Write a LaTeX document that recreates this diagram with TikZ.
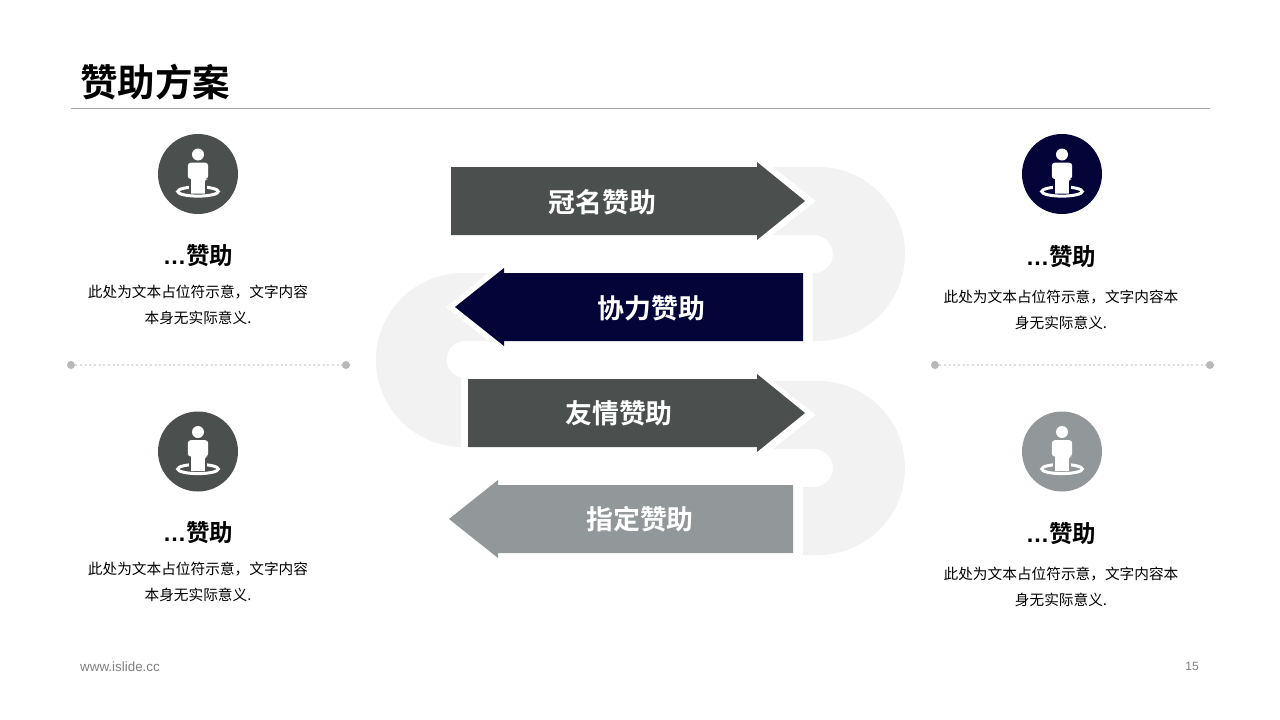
\documentclass[tikz,border=0pt]{standalone}
\usepackage{fontspec}
\setmainfont{Noto Sans CJK SC}[BoldFont={Noto Sans CJK SC Bold}]
\setsansfont{Liberation Sans}
\definecolor{dk}{HTML}{4B4F4E}
\definecolor{navy}{HTML}{040438}
\definecolor{gr}{HTML}{92979A}
\definecolor{pale}{HTML}{F2F2F2}
\newcommand{\dotsmark}{{\sffamily …}}
\tikzset{
  x=1pt,y=-1pt,
  arrowlabel/.style={text=white,font=\fontsize{26.9}{30}\selectfont\bfseries,inner sep=0pt},
  headlabel/.style={text=black,font=\fontsize{23.5}{28}\selectfont\bfseries,inner sep=0pt},
  bodytext/.style={text=black,font=\fontsize{14.67}{26}\selectfont,inner sep=0pt,align=center},
  footer/.style={text=black!50,font=\sffamily\fontsize{13.4}{15}\selectfont,inner sep=0pt},
  pagenum/.style={text=black!50,font=\sffamily\fontsize{12}{14}\selectfont,inner sep=0pt},
  enddot/.style={circle,fill=black!28,minimum size=8pt,inner sep=0pt},
  dotline/.style={draw=black!13,line width=1.8pt,dash pattern=on 2pt off 2.67pt},
  pics/person/.style={code={
    \fill[#1] (0,0) circle[radius=40];
    \fill[white] (0,-19.5) circle[radius=6];
    \draw[white,line width=3pt] (0,17.5) ellipse[x radius=20.3,y radius=4.6];
    \fill[#1] (-8.6,4) rectangle (8.6,15);
    \fill[white] (-10.2,-11.3) [rounded corners=3pt] -- (10.2,-11.3) -- (10.2,5) -- (6.8,5) [sharp corners] -- (6.8,19.5) -- (-6.8,19.5) -- (-6.8,5) [rounded corners=3pt] -- (-10.2,5) -- cycle;
  }}
}
\begin{document}
\begin{tikzpicture}
\useasboundingbox (0,0) rectangle (1280,720);
\fill[white] (0,0) rectangle (1280,720);
% title
\node[anchor=west,inner sep=0pt,font=\fontsize{37.5}{40}\selectfont\bfseries] (title) at (80,82) {赞助方案};
\coordinate (ruleL) at (71,108.5);
\coordinate (ruleR) at (1210,108.5);
\draw[black!35,line width=0.8pt] (ruleL) -- (ruleR);
% pale ribbons
\fill[pale] (773,167) -- (818,167) arc[start angle=-90,end angle=90,radius=87] -- (813,341) -- (813,273) -- (814,273) arc[start angle=90,end angle=-90,radius=19] -- (773,235) -- (816,201) -- cycle;
\fill[pale] (773,381) -- (818,381) arc[start angle=-90,end angle=90,radius=87] -- (803,555) -- (803,487) -- (814,487) arc[start angle=90,end angle=-90,radius=19] -- (773,449) -- (816,415) -- cycle;
\fill[pale] (488,273) -- (463,273) arc[start angle=-90,end angle=-270,radius=87] -- (461,447) -- (461,378) -- (465,378) arc[start angle=90,end angle=270,radius=18.5] -- (488,341) -- (446,307) -- cycle;
% arrows
\fill[dk] (451,167) -- (757,167) -- (757,162) -- (805,201) -- (757,240) -- (757,235) -- (451,235) -- cycle;
\fill[navy] (803,273) -- (504,273) -- (504,268) -- (455,307) -- (504,346) -- (504,341) -- (803,341) -- cycle;
\fill[dk] (468,379) -- (757,379) -- (757,374) -- (805,413) -- (757,452) -- (757,447) -- (468,447) -- cycle;
\fill[gr] (793,485) -- (498,485) -- (498,480) -- (449,519) -- (498,558) -- (498,553) -- (793,553) -- cycle;
\node[arrowlabel] (a1) at (602.5,202) {冠名赞助};
\node[arrowlabel] (a2) at (651.5,308) {协力赞助};
\node[arrowlabel] (a3) at (619,413) {友情赞助};
\node[arrowlabel] (a4) at (640,519) {指定赞助};
% icons
\pic at (198,174) {person=dk};
\pic at (1062,174) {person=navy};
\pic at (198,451.5) {person=dk};
\pic at (1062,451.5) {person=gr};
% left texts
\node[headlabel] (h1) at (198,256) {\dotsmark 赞助};
\node[bodytext] (b1) at (198,305) {此处为文本占位符示意，文字内容\\本身无实际意义.};
\node[headlabel] (h3) at (198,533) {\dotsmark 赞助};
\node[bodytext] (b3) at (198,582) {此处为文本占位符示意，文字内容\\本身无实际意义.};
% right texts
\node[headlabel] (h2) at (1061,257) {\dotsmark 赞助};
\node[bodytext] (b2) at (1061,310) {此处为文本占位符示意，文字内容本\\身无实际意义.};
\node[headlabel] (h4) at (1061,534) {\dotsmark 赞助};
\node[bodytext] (b4) at (1061,587) {此处为文本占位符示意，文字内容本\\身无实际意义.};
% dividers
\node[enddot] (dl1) at (71,365) {};
\node[enddot] (dl2) at (346,365) {};
\node[enddot] (dr1) at (935,365) {};
\node[enddot] (dr2) at (1210,365) {};
\draw[dotline] (dl1) -- (dl2);
\draw[dotline] (dr1) -- (dr2);
% footer
\node[footer,anchor=west] (web) at (80,666.5) {www.islide.cc};
\node[pagenum,anchor=east] (pg) at (1199,666) {15};
\end{tikzpicture}
\end{document}
